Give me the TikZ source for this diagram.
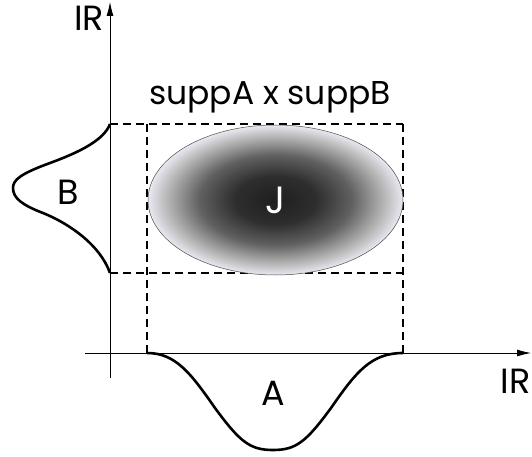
\documentclass[tikz,border=0pt]{standalone}
\usepackage{fontspec}
\setmainfont{Poppins}
\usetikzlibrary{arrows.meta, shapes.geometric}
\definecolor{shadeedge}{RGB}{232,232,240}
\pgfdeclareradialshading{jointshade}{\pgfpoint{0bp}{0bp}}{color(0bp)=(black!88); color(8bp)=(black!82);
    color(15bp)=(black!62); color(21bp)=(black!30); color(25bp)=(shadeedge); color(50bp)=(shadeedge)}
\begin{document}
\begin{tikzpicture}[x=1pt, y=-1pt, >={Latex[length=14pt,width=7pt]},
        axis/.style={line width=0.8pt, ->},
        density/.style={line width=2.6pt, line join=round},
        support/.style={dash pattern=on 8pt off 5pt, line width=1.1pt},
        joint/.style={ellipse, draw=black!70, line width=0.5pt, shading=jointshade,
            minimum width=255pt, minimum height=150pt, text=white, font=\fontsize{38}{38}\selectfont},
        label/.style={inner sep=0pt, font=\fontsize{35}{35}\selectfont}]
    \useasboundingbox (0,0) rectangle (532,457);
    % axes
    \coordinate (xstart) at (85,353);
    \coordinate (xend) at (531,353);
    \coordinate (ystart) at (110,378);
    \coordinate (yend) at (110,2);
    \draw[axis] (xstart) -- (xend);
    \draw[axis] (ystart) -- (yend);
    \node[label, anchor=east] (rx) at (531,381) {IR};
    \node[label] (ry) at (89,18) {IR};
    % supports
    \coordinate (a1) at (147,353);
    \coordinate (a2) at (403,353);
    \coordinate (b1) at (110,124);
    \coordinate (b2) at (110,273);
    \coordinate (c1) at (147,124);
    \coordinate (c2) at (403,124);
    \coordinate (c3) at (403,273);
    \draw[support] (b1) -- (c2);
    \draw[support] (b2) -- (c3);
    \draw[support] (c1) -- (a1);
    \draw[support] (c2) -- (a2);
    % joint distribution
    \node[joint] (J) at (275.5,200) {J};
    \node[label, font=\fontsize{33}{33}\selectfont] (prod) at (270,97) {suppA x suppB};
    % marginals
    \draw[density] (b1) .. controls (104,140) and (80,152) .. (50,163)
        .. controls (20,174) and (13,180) .. (13,188)
        .. controls (13,198) and (22,205) .. (43,213)
        .. controls (70,224) and (100,245) .. (b2);
    \draw[density] (a1) .. controls (175,353) and (190,372) .. (215,408)
        .. controls (240,442) and (250,450) .. (273,450)
        .. controls (296,450) and (306,442) .. (331,408)
        .. controls (356,372) and (371,353) .. (a2);
    \node[label] (B) at (68,192) {B};
    \node[label] (A) at (273,393) {A};
\end{tikzpicture}
\end{document}
